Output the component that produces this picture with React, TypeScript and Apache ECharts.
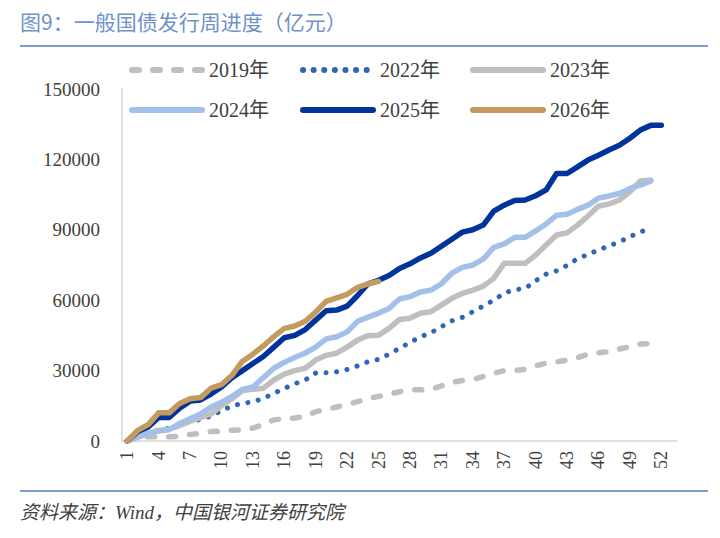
import React, { useEffect, useRef } from "react";
import * as echarts from "echarts";

const weeks = ["1","2","3","4","5","6","7","8","9","10","11","12","13","14","15","16","17","18","19","20","21","22","23","24","25","26","27","28","29","30","31","32","33","34","35","36","37","38","39","40","41","42","43","44","45","46","47","48","49","50","51","52","53"];

const y2019 = [0,1500,1800,1800,1800,2000,2800,3200,4000,4200,4600,4800,5500,7000,9000,9500,9800,10500,12500,13500,14500,15500,16800,18000,19000,20000,21000,21800,21800,22000,23500,25000,25800,26200,27500,28800,30000,30000,30500,32000,33200,33700,34500,35500,37000,37600,38000,39200,40200,41300,41600];
const y2022 = [0,1800,3500,4700,5400,7200,8200,9200,10600,12900,14900,16000,16700,18200,20300,22400,24400,26000,29000,29100,29500,30500,32000,33800,34800,37000,39500,42000,44400,46100,48700,51200,52700,55100,57500,60000,63000,64500,65000,68300,71100,72500,74800,77700,79500,81400,83100,84900,87000,89200,90200];
const y2023 = [0,2000,3000,4500,5000,6500,8500,10000,11500,15000,18000,21500,22000,22500,26000,28500,30000,31000,34500,36500,37400,40000,43000,44900,45100,48000,51800,52300,54400,55100,57900,60800,62900,64300,66000,69300,75700,75700,75700,79200,83500,87800,88700,92000,95900,100100,101000,102700,106200,110800,111200];
const y2024 = [0,1500,3300,4200,4800,7500,9500,11500,14500,16500,19000,22000,23000,27000,31000,33500,35600,37500,40000,43500,44400,46500,51000,52800,54500,56500,60500,61500,63500,64300,67000,71500,74000,75000,77500,82500,84000,86800,86800,89500,92500,96200,96600,98700,100500,103500,104400,105500,107600,109000,110800];
const y2025 = [0,4000,6000,10000,10000,14000,17000,17500,20000,23000,27000,30000,33000,36000,40000,44000,45000,47500,51500,55500,55800,57500,62000,67000,68500,70500,73500,75500,78000,80000,83000,86000,89000,90000,92000,98000,100500,102500,102700,104500,107000,114000,114000,116800,119700,121800,124000,126000,129000,132500,134500,134500];
const y2026 = [0,4500,7000,12000,12000,16000,18000,18500,22500,24000,28000,34000,37000,40500,44500,48000,49000,51000,55000,59500,61000,62500,65500,67000,68000];

const seriesNames = ["2019年", "2022年", "2023年", "2024年", "2025年", "2026年"];

const SERIF = "'Liberation Serif', 'DejaVu Serif', 'Noto Sans CJK SC', serif";
const CJK = "'Noto Sans CJK SC', sans-serif";

export default function App() {
  const ref = useRef<HTMLDivElement>(null);
  useEffect(() => {
    if (!ref.current) return;
    const chart = echarts.init(ref.current, undefined, { renderer: "svg" });
    const legendPos = [
      { left: 129, top: 60 },
      { left: 300, top: 60 },
      { left: 470, top: 60 },
      { left: 129, top: 100 },
      { left: 300, top: 100 },
      { left: 470, top: 100 },
    ];
    const styles = [
      { color: "#bfbfbf", width: 5.5, type: [7, 14], cap: "round" },
      { color: "#2f66b8", width: 5, type: [0.1, 10.5], cap: "round" },
      { color: "#bfbfbf", width: 5.5, type: "solid", cap: "round" },
      { color: "#a3c0eb", width: 5.5, type: "solid", cap: "round" },
      { color: "#00349a", width: 5.5, type: "solid", cap: "round" },
      { color: "#c59a5f", width: 5.5, type: "solid", cap: "round" },
    ];
    const datas = [y2019, y2022, y2023, y2024, y2025, y2026];
    chart.setOption({
      animation: false,
      backgroundColor: "#ffffff",
      grid: { left: 122, right: 43, top: 89, bottom: 97, containLabel: false },
      legend: seriesNames.map((n, i) => ({
        data: [n],
        left: legendPos[i].left,
        top: legendPos[i].top,
        padding: 0,
        itemWidth: 70,
        itemHeight: 14,
        itemGap: 0,
        itemStyle: { opacity: 0 },
        lineStyle: { width: 6, cap: "round" },
        textStyle: { fontFamily: SERIF, fontSize: 20, color: "#404040", padding: [0, 0, 0, 2] },
      })),
      xAxis: {
        type: "category",
        data: weeks,
        boundaryGap: true,
        axisLine: { lineStyle: { color: "#d6d6d6", width: 1.5 } },
        axisTick: { show: false },
        axisLabel: {
          interval: 2,
          rotate: 90,
          fontFamily: SERIF,
          fontSize: 18,
          color: "#404040",
          margin: 10,
        },
        splitLine: { show: false },
      },
      yAxis: {
        type: "value",
        min: 0,
        max: 150000,
        interval: 30000,
        axisLine: { show: true, lineStyle: { color: "#d6d6d6", width: 1.5 } },
        axisTick: { show: false },
        axisLabel: {
          fontFamily: SERIF,
          fontSize: 19,
          color: "#404040",
          margin: 22,
          formatter: (v: number) => String(v),
        },
        splitLine: { show: false },
      },
      series: seriesNames.map((n, i) => ({
        name: n,
        type: "line",
        data: datas[i],
        symbol: "none",
        smooth: false,
        color: styles[i].color,
        lineStyle: {
          color: styles[i].color,
          width: styles[i].width,
          type: styles[i].type as any,
          cap: styles[i].cap as any,
          join: "round",
        },
        z: 2 + i,
      })),
      graphic: [
        {
          type: "text",
          left: 20,
          top: 10,
          style: {
            text: "图9：一般国债发行周进度（亿元）",
            fontFamily: CJK,
            fontSize: 21,
            fill: "#7091c9",
          },
        },
        {
          type: "line",
          shape: { x1: 20, y1: 46, x2: 708, y2: 46 },
          style: { stroke: "#7b9bd1", lineWidth: 2 },
        },
        {
          type: "line",
          shape: { x1: 20, y1: 491, x2: 708, y2: 491 },
          style: { stroke: "#7b9bd1", lineWidth: 2 },
        },
        {
          type: "text",
          left: 20,
          top: 503,
          style: {
            text: "资料来源：Wind，中国银河证券研究院",
            fontFamily: SERIF,
            fontStyle: "italic",
            fontSize: 19,
            fill: "#404040",
          },
        },
      ],
    });
    return () => chart.dispose();
  }, []);
  return (
    <div
      ref={ref}
      style={{ position: "fixed", left: 0, top: 0, width: 720, height: 538, background: "#fff" }}
    />
  );
}
